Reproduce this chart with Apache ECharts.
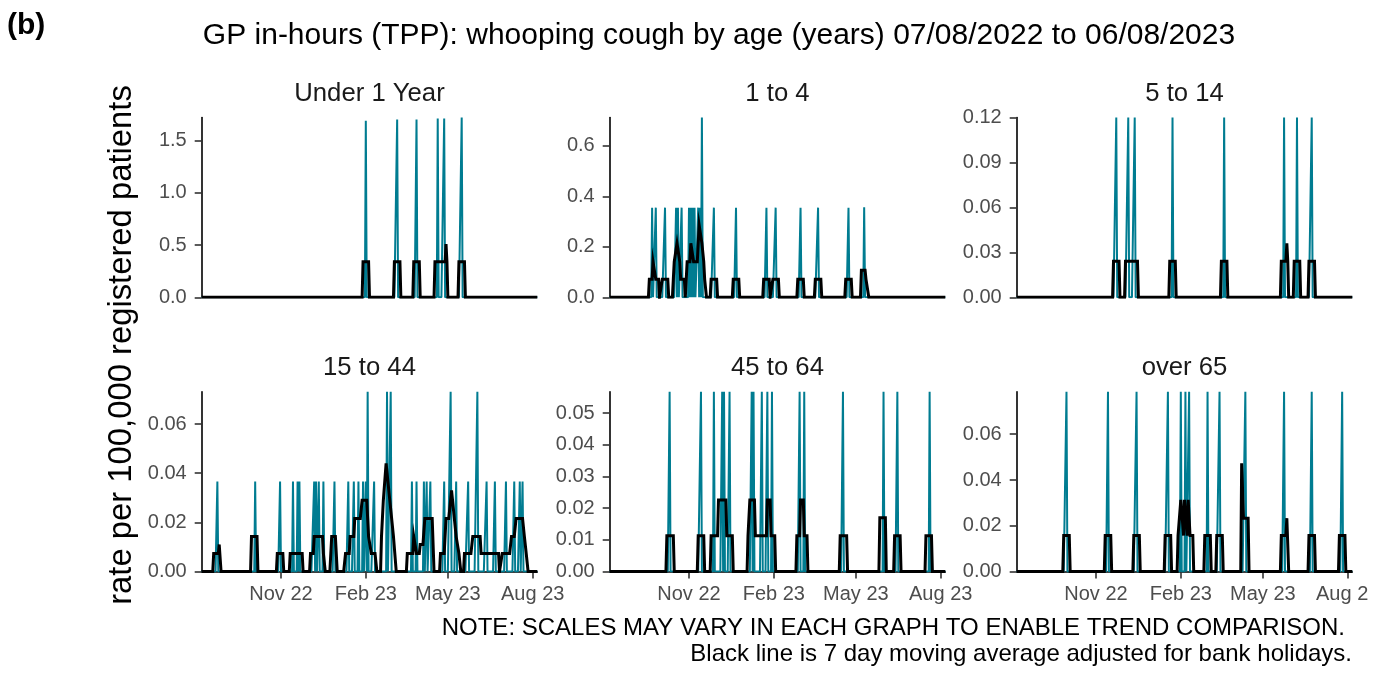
<!DOCTYPE html>
<html><head><meta charset="utf-8">
<script src="https://cdn.jsdelivr.net/npm/echarts@6/dist/echarts.min.js"></script>
<style>html,body{margin:0;padding:0;background:#fff}#c{width:1391px;height:673px}</style>
</head><body><div id="c"></div>
<script>
// ---------------- DATA ----------------
const startDate = '2022-08-07';
const endDate = '2023-08-06';
const figureTag = '(b)';
const chartTitle = 'GP in-hours (TPP): whooping cough by age (years) 07/08/2022 to 06/08/2023';
const yAxisTitle = 'rate per 100,000 registered patients';
const noteLines = ['NOTE: SCALES MAY VARY IN EACH GRAPH TO ENABLE TREND COMPARISON.',
                   'Black line is 7 day moving average adjusted for bank holidays.'];
const panelNames = ['Under 1 Year', '1 to 4', '5 to 14', '15 to 44', '45 to 64', 'over 65'];
const tickDates = ['2022-11-01', '2023-02-01', '2023-05-01', '2023-08-01'];
const tickLabels = ['Nov 22', 'Feb 23', 'May 23', 'Aug 23'];

// y axis ticks per panel
const under1Ticks = [0, 0.5, 1.0, 1.5];
const age1to4Ticks = [0, 0.2, 0.4, 0.6];
const age5to14Ticks = [0, 0.03, 0.06, 0.09, 0.12];
const age15to44Ticks = [0, 0.02, 0.04, 0.06];
const age45to64Ticks = [0, 0.01, 0.02, 0.03, 0.04, 0.05];
const over65Ticks = [0, 0.02, 0.04, 0.06];
const yMaxValues = [1.72, 0.712, 0.12, 0.0732, 0.0568, 0.0786];
const yDecimals = [1, 1, 2, 2, 2, 2];

// daily rates (days counted from 07/08/2022; all other days are 0)
const under1Days = [178, 212, 233, 256, 263, 282];
const under1Rates = [1.69, 1.70, 1.70, 1.71, 1.71, 1.72];
const age1to4Days = [46, 50, 60, 72, 74, 78, 86, 88, 90, 92, 96, 98, 100, 113, 137, 170, 180, 207, 226, 259, 276];
const age1to4Rates = [0.355, 0.355, 0.355, 0.355, 0.355, 0.355, 0.355, 0.355, 0.355, 0.355, 0.355, 0.355, 0.712, 0.355, 0.355, 0.355, 0.355, 0.355, 0.355, 0.355, 0.357];
const age5to14Days = [108, 121, 128, 169, 225, 290, 304, 320];
const age5to14Rates = [0.12, 0.12, 0.12, 0.12, 0.12, 0.12, 0.12, 0.12];
const age15to44Days = [17, 58, 85, 99, 104, 106, 122, 124, 127, 132, 144, 159, 165, 170, 175, 178, 180, 187, 201, 205, 228, 233, 241, 244, 248, 263, 270, 276, 289, 299, 309, 318, 330, 339, 345, 348];
const age15to44Rates = [0.0366, 0.0366, 0.0366, 0.0366, 0.0366, 0.0366, 0.0366, 0.0366, 0.0366, 0.0366, 0.0366, 0.0366, 0.0366, 0.0366, 0.0366, 0.0366, 0.0732, 0.0366, 0.0732, 0.0732, 0.0366, 0.0366, 0.0366, 0.0366, 0.0366, 0.0366, 0.0732, 0.0366, 0.0366, 0.0732, 0.0366, 0.0366, 0.0366, 0.0366, 0.0366, 0.0366];
const age45to64Days = [65, 99, 113, 122, 124, 130, 154, 156, 165, 171, 176, 206, 211, 253, 297, 312, 347];
const age45to64Rates = [0.0568, 0.0568, 0.0568, 0.0568, 0.0568, 0.0568, 0.0568, 0.0568, 0.0568, 0.0568, 0.0568, 0.0568, 0.0568, 0.0568, 0.0568, 0.0568, 0.0568];
const over65Days = [54, 99, 130, 164, 178, 183, 187, 207, 220, 248, 290, 320, 353];
const over65Rates = [0.0786, 0.0786, 0.0786, 0.0786, 0.0786, 0.0786, 0.0786, 0.0786, 0.0786, 0.0786, 0.0786, 0.0786, 0.0786];

// 7 day moving average, [day, rate] vertices
const under1Avg = [[0,0],[174,0],[175,0.34],[181,0.34],[182,0],[208,0],[209,0.34],[215,0.34],[216,0],[229,0],[230,0.34],[236,0.34],[237,0],[252,0],[253,0.34],[264,0.34],[265,0.51],[266,0.34],[267,0],[278,0],[279,0.34],[285,0.34],[286,0],[364,0]];
const age1to4Avg = [[0,0],[42,0],[43,0.071],[46,0.071],[47,0.141],[49,0.141],[50,0.071],[53,0.071],[54,0],[56,0],[57,0.071],[63,0.071],[64,0],[68,0],[69,0.071],[70,0.141],[72,0.141],[73,0.214],[75,0.214],[76,0.141],[77,0.071],[81,0.071],[82,0],[83,0.071],[84,0.141],[87,0.141],[88,0.214],[90,0.214],[91,0.141],[95,0.141],[96,0.214],[97,0.286],[99,0.286],[100,0.214],[102,0.141],[103,0.071],[105,0],[109,0],[110,0.071],[116,0.071],[117,0],[133,0],[134,0.071],[140,0.071],[141,0],[166,0],[167,0.071],[173,0.071],[174,0],[176,0],[177,0.071],[183,0.071],[184,0],[203,0],[204,0.071],[210,0.071],[211,0],[222,0],[223,0.071],[229,0.071],[230,0],[255,0],[256,0.071],[262,0.071],[263,0],[272,0],[273,0.107],[277,0.107],[278,0.071],[280,0.071],[281,0],[364,0]];
const age5to14Avg = [[0,0],[104,0],[105,0.024],[111,0.024],[112,0],[117,0],[118,0.024],[131,0.024],[132,0],[165,0],[166,0.024],[172,0.024],[173,0],[221,0],[222,0.024],[228,0.024],[229,0],[286,0],[287,0.024],[292,0.024],[293,0.036],[294,0.024],[295,0],[300,0],[301,0.024],[307,0.024],[308,0],[316,0],[317,0.024],[323,0.024],[324,0],[364,0]];
const age15to44Avg = [[0,0],[12,0],[13,0.0073],[18,0.0073],[19,0.011],[20,0.011],[21,0],[53,0],[54,0.0142],[60,0.0142],[61,0],[81,0],[82,0.0073],[88,0.0073],[89,0],[95,0],[96,0.0073],[109,0.0073],[110,0],[117,0],[118,0.0073],[121,0.0073],[122,0.0142],[131,0.0142],[132,0.0073],[133,0.0073],[134,0],[139,0],[141,0.0142],[145,0.0142],[147,0],[154,0],[156,0.0073],[160,0.0073],[161,0.0142],[165,0.0142],[166,0.0216],[172,0.0216],[174,0.029],[179,0.029],[180,0.0216],[181,0.0142],[183,0.0142],[184,0.0073],[188,0.0073],[190,0],[194,0],[195,0.0142],[197,0.029],[200,0.044],[202,0.044],[204,0.029],[206,0.0216],[208,0.0142],[210,0.0142],[211,0],[222,0],[223,0.0073],[229,0.0073],[230,0.0142],[231,0.0142],[233,0.0073],[236,0.0073],[237,0.011],[240,0.011],[242,0.0216],[250,0.0216],[252,0],[258,0],[259,0.0073],[263,0.0073],[265,0.0216],[268,0.0216],[271,0.033],[273,0.033],[274,0.0216],[276,0.0142],[278,0.0142],[279,0.0073],[281,0],[284,0],[285,0.0073],[292,0.0073],[294,0.0142],[302,0.0142],[303,0.0073],[322,0.0073],[323,0],[325,0],[326,0.0073],[334,0.0073],[336,0.0142],[339,0.0142],[341,0.0216],[348,0.0216],[350,0.0142],[352,0.0073],[354,0],[364,0]];
const age45to64Avg = [[0,0],[61,0],[62,0.0113],[69,0.0113],[70,0],[95,0],[96,0.0113],[102,0.0113],[103,0],[109,0],[110,0.0113],[117,0.0113],[118,0.0226],[126,0.0226],[127,0.0113],[133,0.0113],[134,0],[149,0],[150,0.0113],[152,0.0226],[157,0.0226],[158,0.0113],[170,0.0113],[171,0.0226],[174,0.0226],[175,0.0113],[179,0.0113],[180,0],[202,0],[203,0.0113],[206,0.0113],[207,0.0226],[210,0.0226],[211,0.0113],[214,0.0113],[215,0],[249,0],[250,0.0113],[257,0.0113],[258,0],[292,0],[293,0.017],[299,0.017],[300,0],[308,0],[309,0.0113],[315,0.0113],[316,0],[342,0],[343,0.0113],[349,0.0113],[350,0],[364,0]];
const over65Avg = [[0,0],[50,0],[51,0.0157],[57,0.0157],[58,0],[95,0],[96,0.0157],[102,0.0157],[103,0],[126,0],[127,0.0157],[133,0.0157],[134,0],[160,0],[161,0.0157],[167,0.0157],[168,0],[174,0],[175,0.0157],[177,0.0157],[178,0.0313],[180,0.0313],[181,0.0157],[182,0.0313],[184,0.0313],[185,0.0157],[186,0.0313],[187,0.0313],[188,0.0157],[191,0.0157],[192,0],[203,0],[204,0.0157],[210,0.0157],[211,0],[216,0],[217,0.0157],[223,0.0157],[224,0],[243,0],[244,0.0473],[245,0.0473],[246,0.0233],[251,0.0233],[252,0],[286,0],[287,0.0157],[292,0.0157],[293,0.0233],[294,0.0233],[295,0],[316,0],[317,0.0157],[323,0.0157],[324,0],[349,0],[350,0.0157],[356,0.0157],[357,0],[364,0]];

// ---------------- BUILD ----------------
const DAY_MS = 86400000;
const dayIndex = s => Math.round((Date.parse(s) - Date.parse(startDate)) / DAY_MS);
const lastDay = dayIndex(endDate);
const tickDays = tickDates.map(dayIndex);

function dailyTable(days, rates) {
  const m = new Map();
  days.forEach((d, i) => m.set(d, rates[i]));
  const out = [];
  for (let d = 0; d <= lastDay; d++) out.push([d, m.has(d) ? m.get(d) : 0]);
  return out;
}

const panels = [
  {days: under1Days, rates: under1Rates, avg: under1Avg, ticks: under1Ticks},
  {days: age1to4Days, rates: age1to4Rates, avg: age1to4Avg, ticks: age1to4Ticks},
  {days: age5to14Days, rates: age5to14Rates, avg: age5to14Avg, ticks: age5to14Ticks},
  {days: age15to44Days, rates: age15to44Rates, avg: age15to44Avg, ticks: age15to44Ticks},
  {days: age45to64Days, rates: age45to64Rates, avg: age45to64Avg, ticks: age45to64Ticks},
  {days: over65Days, rates: over65Rates, avg: over65Avg, ticks: over65Ticks}
];

// layout
const FONT = "'Liberation Sans', Arial, Helvetica, sans-serif";
const TEAL = '#007C91';
const gridLefts = [201.7, 609.7, 1016.7];
const gridTops = [117.5, 391.7];
const gridW = 335.6, gridH = 179.8;

const grids = [], xAxes = [], yAxes = [], series = [], graphics = [];
panels.forEach((p, i) => {
  const col = i % 3, row = Math.floor(i / 3);
  const bottomRow = row === 1;
  grids.push({left: gridLefts[col], top: gridTops[row], width: gridW, height: gridH, outerBoundsMode: 'none', containLabel: false});
  xAxes.push({
    gridIndex: i, type: 'value', min: 0, max: lastDay,
    splitLine: {show: false},
    axisLine: {show: bottomRow, onZero: false, lineStyle: {color: '#000', width: 1.6}},
    axisTick: {show: bottomRow, customValues: tickDays, length: 7, lineStyle: {color: '#333', width: 1.6}},
    axisLabel: {show: bottomRow, customValues: tickDays, margin: 13, color: '#4d4d4d', fontSize: 20, fontFamily: FONT,
      formatter: v => { let k = 0, best = 1e9; tickDays.forEach((t, j) => { if (Math.abs(t - v) < best) { best = Math.abs(t - v); k = j; } }); return tickLabels[k]; }}
  });
  yAxes.push({
    gridIndex: i, type: 'value', min: 0, max: yMaxValues[i],
    splitLine: {show: false},
    axisLine: {show: true, onZero: false, lineStyle: {color: '#000', width: 1.6}},
    axisTick: {show: true, customValues: p.ticks, length: 7, lineStyle: {color: '#333', width: 1.6}},
    axisLabel: {show: true, customValues: p.ticks, margin: 15, color: '#4d4d4d', fontSize: 20, fontFamily: FONT,
      formatter: v => Number(v).toFixed(yDecimals[i])}
  });
  series.push({
    type: 'line', xAxisIndex: i, yAxisIndex: i, data: dailyTable(p.days, p.rates),
    symbol: 'none', showSymbol: false, silent: true, z: 2,
    lineStyle: {color: TEAL, width: 2}
  });
  series.push({
    type: 'line', xAxisIndex: i, yAxisIndex: i, data: p.avg,
    symbol: 'none', showSymbol: false, silent: true, z: 3,
    lineStyle: {color: '#000', width: 3, join: 'miter'}
  });
  graphics.push({type: 'text', x: gridLefts[col] + gridW / 2, y: gridTops[row] - 24, silent: true,
    style: {text: panelNames[i], font: '25.7px ' + FONT, fill: '#1a1a1a', align: 'center', verticalAlign: 'middle'}});
});

graphics.push({type: 'text', x: 7, y: 26, silent: true,
  style: {text: figureTag, font: 'bold 30px ' + FONT, fill: '#000', align: 'left', verticalAlign: 'middle'}});
graphics.push({type: 'text', x: 719, y: 36, silent: true,
  style: {text: chartTitle, font: '30px ' + FONT, fill: '#000', align: 'center', verticalAlign: 'middle'}});
graphics.push({type: 'text', x: 122, y: 345, rotation: Math.PI / 2, silent: true,
  style: {text: yAxisTitle, font: '32.8px ' + FONT, fill: '#000', align: 'center', verticalAlign: 'middle'}});
graphics.push({type: 'text', x: 1345, y: 628, silent: true,
  style: {text: noteLines[0], font: '24px ' + FONT, fill: '#000', align: 'right', verticalAlign: 'middle'}});
graphics.push({type: 'text', x: 1352, y: 654, silent: true,
  style: {text: noteLines[1], font: '24px ' + FONT, fill: '#000', align: 'right', verticalAlign: 'middle'}});
// the reference figure is cropped at its right edge
graphics.push({type: 'rect', shape: {x: 1369, y: 578, width: 22, height: 34}, style: {fill: '#fff'}, z: 100, silent: true});

const chart = echarts.init(document.getElementById('c'), null, {renderer: 'canvas'});
chart.setOption({
  animation: false,
  backgroundColor: '#fff',
  grid: grids, xAxis: xAxes, yAxis: yAxes, series: series,
  graphic: graphics
});
</script>
</body></html>
